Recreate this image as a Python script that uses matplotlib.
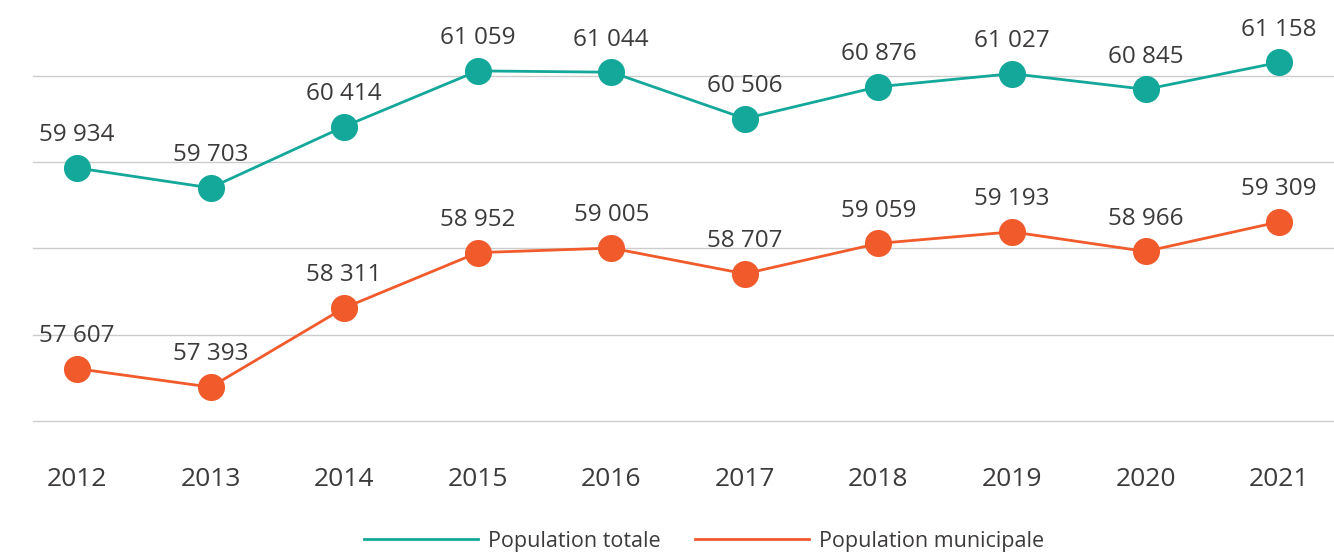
import matplotlib
matplotlib.use("Agg")
import matplotlib.pyplot as plt
from matplotlib.lines import Line2D

years = ["2012", "2013", "2014", "2015", "2016", "2017", "2018", "2019", "2020", "2021"]
pop_totale = [59934, 59703, 60414, 61059, 61044, 60506, 60876, 61027, 60845, 61158]
pop_municipale = [57607, 57393, 58311, 58952, 59005, 58707, 59059, 59193, 58966, 59309]
gridvals = [57000, 58000, 59000, 60000, 61000]

teal = "#14A89B"
orange = "#F15A2B"
txt = "#3d3a3c"

plt.rcParams['font.family'] = ['Open Sans', 'DejaVu Sans']

W, H = 1334, 554
fig = plt.figure(figsize=(W / 100, H / 100), dpi=100)
ax = fig.add_axes([33 / W, 1 - 421 / H, (W - 33) / W, 421 / H])

x = list(range(len(years)))
ax.set_xlim(-0.329, 9.41)
ax.set_ylim(57000, 61881)

for g in gridvals:
    ax.axhline(g, color="#cccccc", lw=1.0, zorder=0, clip_on=False)

def fmt(v):
    return f"{v:,}".replace(",", " ")

for vals, col in ((pop_totale, teal), (pop_municipale, orange)):
    ax.plot(x, vals, color=col, lw=2, marker="o", ms=19.5, markeredgewidth=0, zorder=3, clip_on=False)
    for xi, v in zip(x, vals):
        ax.annotate(fmt(v), (xi, v), xytext=(0, 23.5), textcoords="offset points",
                    ha="center", va="center", fontsize=17.5, color=txt, zorder=4,
                    annotation_clip=False)

for s in ax.spines.values():
    s.set_visible(False)
ax.set_yticks([])
ax.set_xticks(x)
ax.set_xticklabels(years)
ax.tick_params(axis="x", length=0, pad=33, labelsize=19, labelcolor=txt)

handles = [Line2D([0], [0], color=teal, lw=2), Line2D([0], [0], color=orange, lw=2)]
fig.legend(handles, ["Population totale", "Population municipale"], loc="center",
           bbox_to_anchor=(704 / W, 1 - 541 / H), ncol=2, frameon=False,
           handlelength=5.3, handletextpad=0.45, columnspacing=1.6, fontsize=15.5,
           labelcolor=txt)

fig.savefig("out.png", dpi=100)
